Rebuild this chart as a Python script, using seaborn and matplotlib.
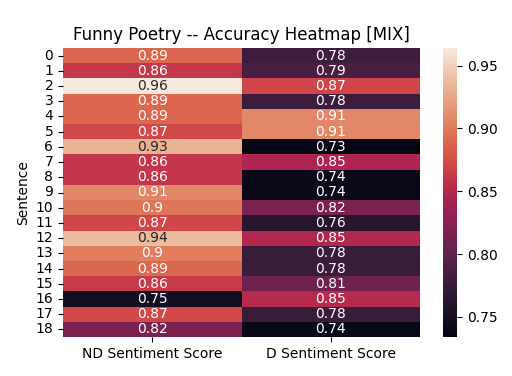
import matplotlib
matplotlib.use("Agg")
import matplotlib.pyplot as plt
import seaborn as sns
import numpy as np
import pandas as pd
from matplotlib.colors import ListedColormap

sentences = list(range(19))
nd_scores = [0.889, 0.862, 0.964, 0.889, 0.888, 0.872, 0.931, 0.861, 0.861, 0.906,
             0.897, 0.871, 0.937, 0.902, 0.889, 0.864, 0.749, 0.873, 0.818]
d_scores = [0.779, 0.787, 0.870, 0.779, 0.907, 0.907, 0.734, 0.848, 0.741, 0.741,
            0.818, 0.763, 0.849, 0.777, 0.777, 0.810, 0.852, 0.777, 0.741]
columns = ["ND Sentiment Score", "D Sentiment Score"]

df = pd.DataFrame({columns[0]: nd_scores, columns[1]: d_scores}, index=sentences)

# rocket, muted slightly to match the reference rendering
base = [sns.desaturate(c, 0.78) for c in sns.color_palette("rocket", 256)]
cmap = ListedColormap([tuple(np.clip(np.array(c), 0, 1) ** 1.1) for c in base])

W, H = 512, 376
fig = plt.figure(figsize=(W / 100, H / 100), dpi=100)
ax = fig.add_axes([63 / W, (H - 337) / H, (420 - 63) / W, (337 - 48) / H])
cax = fig.add_axes([443 / W, (H - 337) / H, 14 / W, (337 - 48) / H])
sns.heatmap(df, annot=True, ax=ax, cbar_ax=cax, cmap=cmap)
ax.set_title("Funny Poetry -- Accuracy Heatmap [MIX]")
ax.set_ylabel("Sentence")
ax.set_yticklabels(ax.get_yticklabels(), rotation=0)
fig.savefig("out.png", dpi=100)
